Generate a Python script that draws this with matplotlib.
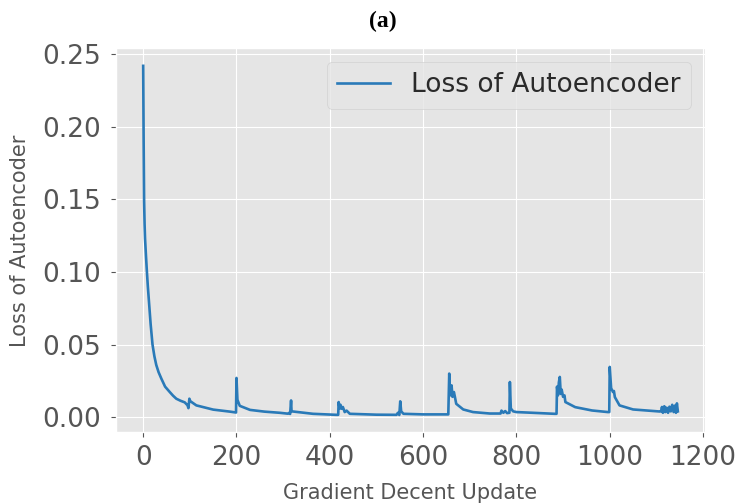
import matplotlib
matplotlib.use("Agg")
from matplotlib import pyplot as plt

# values (gradient step, loss)
steps = [0, 1, 2, 3, 4, 6, 8, 10, 13, 16, 20, 24, 28, 33, 39, 47, 57, 64, 71,
         80, 89, 95, 97, 99, 101, 114,
         150, 186, 199, 200, 202, 207, 229, 260, 293, 310, 313, 315, 317, 318,
         321, 364, 414, 418, 419, 421, 423, 425, 428, 432, 436, 443, 500, 543,
         546, 549, 551, 553, 558, 600, 654, 656, 658, 661, 663, 666, 668, 671,
         686, 707, 743, 766, 768, 772, 776, 780, 785, 786, 788, 793, 800, 835,
         882, 886, 887, 889, 891, 893, 895, 897, 900, 903, 905, 926, 962, 996,
         999, 1000, 1003, 1007, 1009, 1011, 1021, 1050, 1107, 1110, 1112, 1114,
         1117, 1119, 1122, 1125, 1128, 1131, 1134, 1137, 1140, 1142, 1144, 1146]
loss = [0.242, 0.190, 0.149, 0.133, 0.123, 0.111, 0.100, 0.090, 0.077, 0.064,
        0.050, 0.042, 0.036, 0.031, 0.0265, 0.021, 0.0173, 0.0148, 0.0127,
        0.0113, 0.0102, 0.0082, 0.0062, 0.0127, 0.0110, 0.0081,
        0.0052, 0.0038, 0.0032, 0.0270, 0.0120, 0.0078, 0.0050, 0.0038, 0.0030,
        0.0024, 0.0030, 0.0022, 0.0115, 0.0040,
        0.0039, 0.0023, 0.0016, 0.0016, 0.0104, 0.0060, 0.0085, 0.0058, 0.0070,
        0.0035, 0.0045, 0.0023, 0.0017, 0.0016,
        0.0030, 0.0015, 0.0109, 0.0040, 0.0023, 0.0019, 0.0019, 0.0300, 0.0150,
        0.0219, 0.0140, 0.0173, 0.0142, 0.0092,
        0.0053, 0.0035, 0.0025, 0.0025, 0.0045, 0.0030, 0.0042, 0.0028, 0.0030,
        0.0242, 0.0060, 0.0040, 0.0035, 0.0030,
        0.0023, 0.0023, 0.0210, 0.0150, 0.0240, 0.0277, 0.0160, 0.0190, 0.0140,
        0.0150, 0.0104, 0.0069, 0.0046, 0.0035,
        0.0035, 0.0346, 0.0200, 0.0173, 0.0180, 0.0138, 0.0081, 0.0053, 0.0039,
        0.0040, 0.0070, 0.0030,
        0.0075, 0.0035, 0.0065, 0.0030, 0.0072, 0.0040, 0.0085, 0.0035, 0.0080,
        0.0030, 0.0095, 0.0040]

plt.style.use('ggplot')

fig = plt.figure(figsize=(7.37, 5.04), dpi=100)
ax = fig.add_axes([0.158, 0.142, 0.798, 0.762])

ax.plot(steps, loss, color='#2a7ab8', linewidth=1.9, label='Loss of Autoencoder')

ax.tick_params(labelsize=19, colors='#555555')
ax.tick_params(axis='x', pad=5.5)
ax.tick_params(axis='y', pad=7.5)
ax.set_xticks([0, 200, 400, 600, 800, 1000, 1200])
ax.set_xlabel('Gradient Decent Update', fontsize=15, color='#555555', labelpad=9)
ax.set_ylabel('Loss of Autoencoder', fontsize=15, color='#555555')
ax.yaxis.set_label_coords(-0.147, 0.5)

leg = ax.legend(loc='upper right', fontsize=19)
for t in leg.get_texts():
    t.set_color('#2a2a2a')

fig.text(0.52, 0.958, '(a)', ha='center', va='center', fontsize=17,
         fontweight='bold', family='Liberation Serif')

fig.savefig('out.png', dpi=100)
